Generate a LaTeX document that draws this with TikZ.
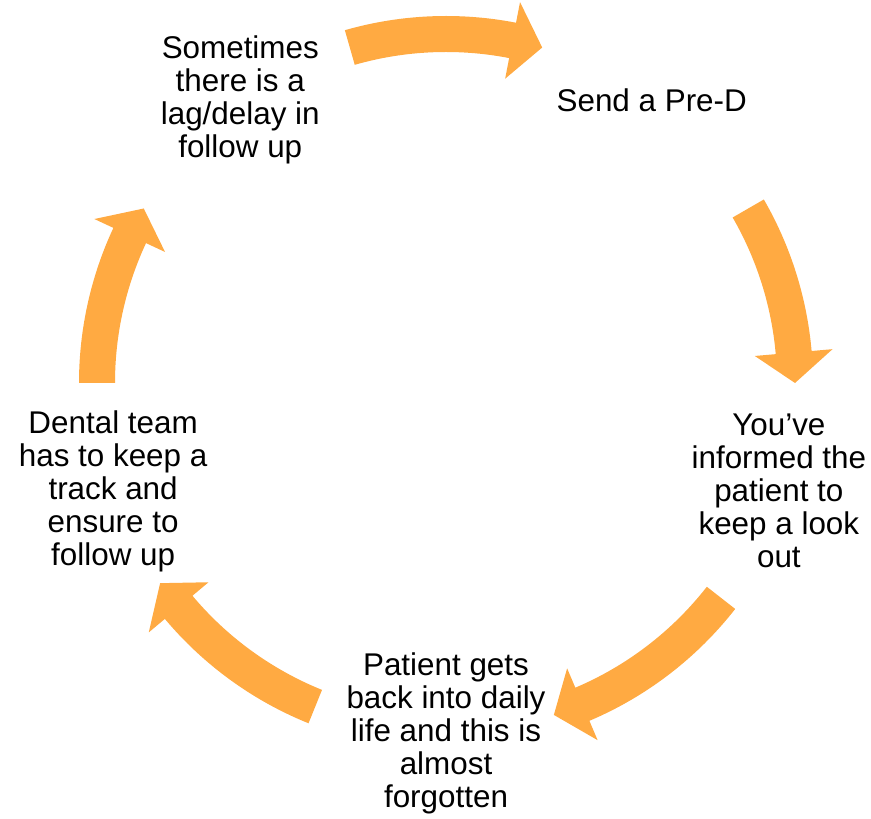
\documentclass[tikz,border=0pt]{standalone}
\usepackage{fontspec}
\setmainfont{Liberation Sans}
\usetikzlibrary{calc}
\definecolor{cycleorange}{RGB}{255,170,66}
\tikzset{
  steptext/.style={align=center, font=\fontsize{31.4}{33}\selectfont, inner sep=0pt},
  cyclearrow/.style={fill=cycleorange, draw=none}
}
% block arrow on the ring: #1 tail angle, #2 tip angle
\newcommand{\ringarrow}[2]{%
  \pgfmathsetmacro{\headbase}{#2+5}
  \fill[cyclearrow] (#1:367) arc[start angle=#1, end angle=\headbase, radius=367]
    -- (\headbase:388) -- (#2:349) -- (\headbase:310) -- (\headbase:331)
    arc[start angle=\headbase, end angle=#1, radius=331] -- cycle;
}

\begin{document}
\begin{tikzpicture}[x=1pt, y=1pt]
  \useasboundingbox (0,0) rectangle (871,819);
  \coordinate (ctr) at (446,436);

  \node[steptext] (pred)    at ($(ctr)+(54:350)$)  {Send a Pre-D};
  \node[steptext] (inform)  at ($(ctr)+(-18:350)$) {You’ve\\informed the\\patient to\\keep a look\\out};
  \node[steptext] (forget)  at ($(ctr)+(-90:350)$) {Patient gets\\back into daily\\life and this is\\almost\\forgotten};
  \node[steptext] (team)    at ($(ctr)+(198:350)$) {Dental team\\has to keep a\\track and\\ensure to\\follow up};
  \node[steptext] (lag)     at ($(ctr)+(126:350)$) {Sometimes\\there is a\\lag/delay in\\follow up};

  \begin{scope}[shift={(ctr)}]
    \ringarrow{106}{74}
    \ringarrow{30}{0}
    \ringarrow{-38}{-72}
    \ringarrow{-112}{-145}
    \ringarrow{180}{150}
  \end{scope}
\end{tikzpicture}
\end{document}
